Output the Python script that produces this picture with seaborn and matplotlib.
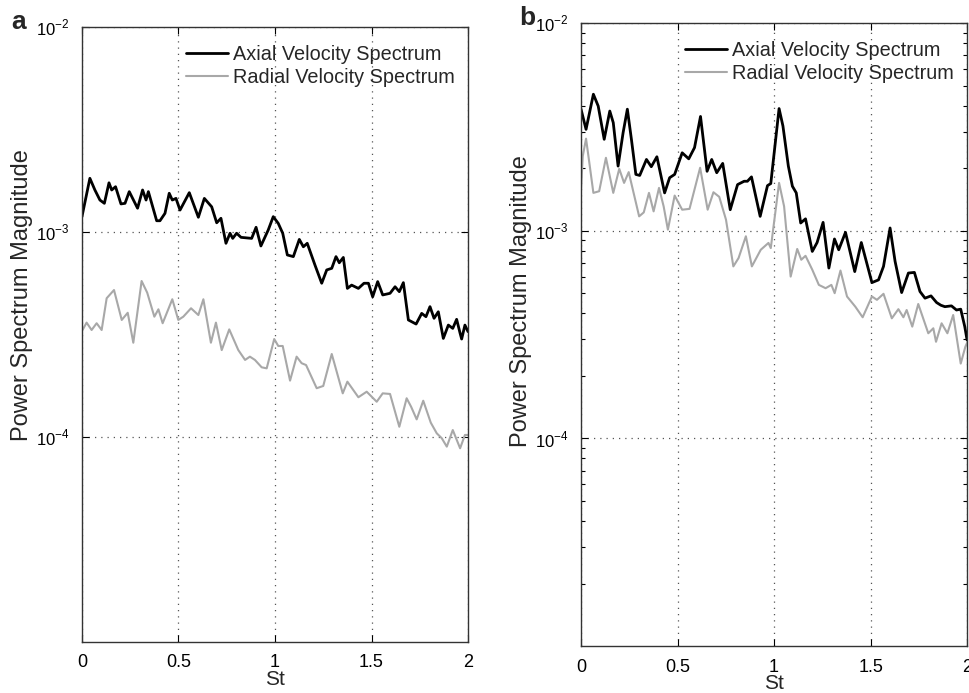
import numpy as np
import pandas as pd
import matplotlib
matplotlib.use("Agg")
import matplotlib.pyplot as plt
from matplotlib.ticker import LogLocator, FixedLocator, NullLocator
import seaborn as sns

# Panel a: values (St, log10 of power)
a_axial_st = [0.0, 0.041, 0.067, 0.093, 0.116, 0.14, 0.154, 0.174, 0.202, 0.223, 0.245, 0.288,
              0.314, 0.332, 0.344, 0.387, 0.404, 0.43, 0.452, 0.468, 0.487, 0.508, 0.556, 0.603,
              0.634, 0.672, 0.698, 0.72, 0.746, 0.767, 0.781, 0.801, 0.824, 0.879, 0.902, 0.927,
              0.965, 0.991, 1.017, 1.04, 1.064, 1.095, 1.126, 1.147, 1.167, 1.207, 1.242, 1.268,
              1.294, 1.316, 1.333, 1.354, 1.375, 1.397, 1.432, 1.461, 1.484, 1.506, 1.532, 1.558,
              1.596, 1.622, 1.644, 1.665, 1.691, 1.731, 1.76, 1.782, 1.803, 1.824, 1.846, 1.872,
              1.898, 1.921, 1.941, 1.959, 1.967, 1.984, 2.0]
a_axial_log = [-2.925, -2.738, -2.795, -2.844, -2.86, -2.76, -2.795, -2.779, -2.863, -2.86, -2.803,
               -2.884, -2.795, -2.844, -2.803, -2.945, -2.945, -2.909, -2.811, -2.844, -2.836, -2.893,
               -2.808, -2.928, -2.836, -2.877, -2.955, -2.933, -3.055, -3.006, -3.031, -3.006, -3.026,
               -3.031, -2.977, -3.068, -2.99, -2.925, -2.958, -3.006, -3.112, -3.12, -3.036, -3.072,
               -3.055, -3.161, -3.25, -3.185, -3.177, -3.12, -3.15, -3.124, -3.275, -3.259, -3.275,
               -3.25, -3.25, -3.316, -3.242, -3.307, -3.299, -3.267, -3.291, -3.247, -3.429, -3.449,
               -3.397, -3.413, -3.364, -3.421, -3.389, -3.519, -3.454, -3.47, -3.426, -3.494, -3.522,
               -3.454, -3.486]
a_radial_st = [0.003, 0.024, 0.05, 0.076, 0.102, 0.128, 0.166, 0.206, 0.237, 0.266, 0.309, 0.338,
               0.375, 0.396, 0.418, 0.468, 0.499, 0.525, 0.565, 0.603, 0.629, 0.668, 0.694, 0.724,
               0.763, 0.81, 0.845, 0.87, 0.896, 0.931, 0.957, 0.996, 1.017, 1.04, 1.078, 1.112,
               1.138, 1.161, 1.216, 1.25, 1.294, 1.351, 1.375, 1.432, 1.475, 1.527, 1.558, 1.596,
               1.644, 1.682, 1.705, 1.734, 1.768, 1.807, 1.838, 1.864, 1.89, 1.921, 1.959, 1.984, 2.0]
a_radial_log = [-3.478, -3.442, -3.478, -3.445, -3.478, -3.323, -3.283, -3.429, -3.394, -3.54,
                -3.239, -3.296, -3.413, -3.377, -3.445, -3.328, -3.429, -3.413, -3.372, -3.405,
                -3.328, -3.54, -3.442, -3.576, -3.475, -3.576, -3.624, -3.608, -3.624, -3.66,
                -3.665, -3.522, -3.556, -3.556, -3.725, -3.608, -3.64, -3.649, -3.762, -3.751,
                -3.595, -3.787, -3.73, -3.806, -3.779, -3.828, -3.787, -3.79, -3.95, -3.811,
                -3.852, -3.914, -3.823, -3.93, -3.982, -4.006, -4.047, -3.966, -4.055, -3.99, -3.99]

# Panel b
b_axial_st = [0.0, 0.026, 0.064, 0.089, 0.12, 0.149, 0.167, 0.192, 0.218, 0.24, 0.261, 0.284,
              0.304, 0.339, 0.364, 0.393, 0.433, 0.459, 0.485, 0.524, 0.558, 0.588, 0.619, 0.653,
              0.677, 0.703, 0.734, 0.773, 0.811, 0.845, 0.862, 0.883, 0.928, 0.966, 0.983, 1.026,
              1.046, 1.074, 1.095, 1.115, 1.138, 1.163, 1.198, 1.223, 1.254, 1.284, 1.313, 1.335,
              1.37, 1.418, 1.452, 1.507, 1.541, 1.567, 1.601, 1.627, 1.661, 1.696, 1.727, 1.756,
              1.782, 1.813, 1.842, 1.864, 1.885, 1.919, 1.945, 1.967, 1.988, 2.0]
b_axial_log = [-2.415, -2.512, -2.343, -2.4, -2.56, -2.424, -2.48, -2.689, -2.528, -2.415, -2.56,
               -2.729, -2.734, -2.657, -2.692, -2.644, -2.818, -2.745, -2.729, -2.625, -2.654, -2.6,
               -2.45, -2.714, -2.657, -2.721, -2.676, -2.899, -2.778, -2.762, -2.762, -2.741, -2.931,
               -2.783, -2.773, -2.412, -2.496, -2.689, -2.786, -2.818, -2.963, -2.943, -3.1, -3.057,
               -2.96, -3.18, -3.04, -3.092, -3.008, -3.197, -3.057, -3.25, -3.237, -3.172, -2.987,
               -3.148, -3.298, -3.204, -3.201, -3.293, -3.325, -3.314, -3.346, -3.359, -3.366,
               -3.362, -3.382, -3.378, -3.462, -3.527]
b_radial_st = [0.0, 0.009, 0.026, 0.043, 0.064, 0.094, 0.129, 0.167, 0.198, 0.223, 0.247, 0.301,
               0.325, 0.352, 0.376, 0.404, 0.428, 0.45, 0.485, 0.524, 0.562, 0.617, 0.656, 0.686,
               0.716, 0.751, 0.789, 0.816, 0.854, 0.885, 0.931, 0.971, 0.983, 1.026, 1.052, 1.086,
               1.12, 1.141, 1.163, 1.198, 1.232, 1.267, 1.297, 1.314, 1.344, 1.378, 1.421, 1.459,
               1.507, 1.533, 1.567, 1.61, 1.644, 1.67, 1.687, 1.716, 1.747, 1.799, 1.825, 1.839,
               1.868, 1.898, 1.928, 1.967, 1.991, 2.0]
b_radial_log = [-2.802, -2.641, -2.557, -2.673, -2.818, -2.81, -2.649, -2.818, -2.702, -2.77,
                -2.718, -2.931, -2.912, -2.818, -2.907, -2.794, -2.883, -2.995, -2.831, -2.899,
                -2.895, -2.697, -2.899, -2.815, -2.837, -2.947, -3.172, -3.132, -3.027, -3.172,
                -3.092, -3.059, -3.084, -2.77, -2.883, -3.221, -3.088, -3.14, -3.121, -3.188,
                -3.261, -3.277, -3.261, -3.301, -3.192, -3.317, -3.366, -3.417, -3.317, -3.333,
                -3.304, -3.422, -3.378, -3.417, -3.382, -3.462, -3.353, -3.494, -3.47, -3.535,
                -3.446, -3.494, -3.406, -3.64, -3.559, -3.54]

sns.set_style("ticks")
plt.rcParams['font.family'] = ['Liberation Sans', 'DejaVu Sans']
plt.rcParams['mathtext.fontset'] = 'custom'
plt.rcParams['mathtext.rm'] = 'Liberation Sans'

fig = plt.figure(figsize=(9.7, 6.93), dpi=100)
ax_a = fig.add_axes([0.0845, 0.0736, 0.398, 0.8874])
ax_b = fig.add_axes([0.599, 0.0678, 0.398, 0.899])

panels = [
    (ax_a, a_axial_st, a_axial_log, a_radial_st, a_radial_log, False, 0.564),
    (ax_b, b_axial_st, b_axial_log, b_radial_st, b_radial_log, True, 0.554),
]

for ax, ax_st, ax_log, rd_st, rd_log, minor, ylab_y in panels:
    axial = pd.DataFrame({'St': ax_st, 'P': 10 ** np.array(ax_log)})
    radial = pd.DataFrame({'St': rd_st, 'P': 10 ** np.array(rd_log)})
    sns.lineplot(data=axial, x='St', y='P', ax=ax, color='black', lw=2.0,
                 label='Axial Velocity Spectrum', sort=False)
    sns.lineplot(data=radial, x='St', y='P', ax=ax, color='#a8a8a8', lw=1.5,
                 label='Radial Velocity Spectrum', sort=False)
    ax.set_yscale('log')
    ax.set_xlim(0, 2)
    ax.set_ylim(1e-5, 1e-2)
    ax.xaxis.set_major_locator(FixedLocator([0, 0.5, 1, 1.5, 2]))
    ax.set_xticklabels(['0', '0.5', '1', '1.5', '2'])
    ax.yaxis.set_major_locator(FixedLocator([1e-4, 1e-3, 1e-2]))
    ax.set_yticklabels(['$10^{-4}$', '$10^{-3}$', '$10^{-2}$'])
    if minor:
        ax.yaxis.set_minor_locator(LogLocator(base=10, subs=np.arange(2, 10)))
    else:
        ax.yaxis.set_minor_locator(NullLocator())
    ax.yaxis.set_minor_formatter(plt.NullFormatter())
    ax.grid(True, which='major', color='#555555', linestyle=(0, (1, 4)), lw=0.9)
    ax.tick_params(which='both', direction='in', top=True, right=True,
                   length=5, width=0.8, colors='black')
    ax.tick_params(axis='x', pad=9, labelsize=13)
    ax.tick_params(axis='y', pad=9, labelsize=12)
    ax.tick_params(which='minor', length=3)
    for s in ax.spines.values():
        s.set_linewidth(1.0)
        s.set_color('#333333')
    ax.set_xlabel('St', fontsize=15, labelpad=-1)
    ax.set_ylabel('Power Spectrum Magnitude', fontsize=17)
    ax.yaxis.set_label_coords(-0.128, ylab_y)
    ax.legend(loc='upper right', bbox_to_anchor=(0.987, 0.984), frameon=False,
              fontsize=14.3, handlelength=2.15, handletextpad=0.25, borderaxespad=0,
              labelspacing=0.2)

fig.text(0.012, 0.968, 'a', fontsize=19, fontweight='bold', ha='left', va='center')
fig.text(0.535, 0.974, 'b', fontsize=19, fontweight='bold', ha='left', va='center')

fig.savefig('out.png', dpi=100)
